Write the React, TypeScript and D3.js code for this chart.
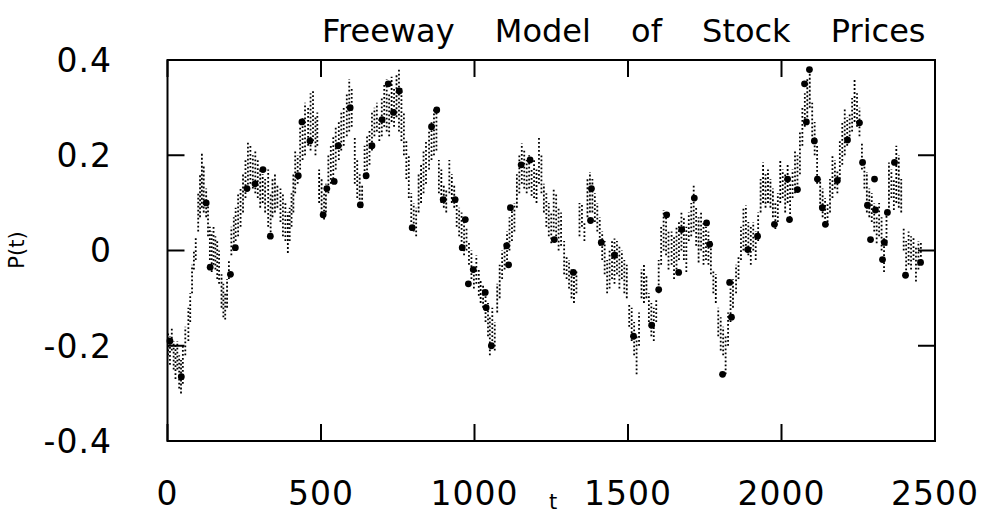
import React from "react";
import * as d3 from "d3";

const TITLE = "Freeway Model of Stock Prices";
const X_TICKS = [0, 500, 1000, 1500, 2000, 2500];
const Y_TICKS = [-0.4, -0.2, 0, 0.2, 0.4];
const Y_TICK_LABELS = ["-0.4", "-0.2", "0", "0.2", "0.4"];

// Streak columns: time t, low and high value of the cloud of points at that t
const T = [2,8,14,20,26,32,38,44,50,58,68,74,80,86,92,100,106,112,118,126,132,138,144,150,156,162,168,176,182,188,194,200,208,216,222,230,238,246,254,262,270,278,286,294,302,310,318,328,336,342,350,358,368,376,384,392,398,404,410,416,424,432,440,448,458,466,474,482,488,494,502,510,516,524,532,540,548,558,566,574,584,592,600,610,618,626,634,642,650,658,666,674,682,690,698,706,714,722,730,738,746,754,762,770,778,786,794,802,810,818,826,834,842,852,860,868,876,884,892,900,908,918,926,934,942,950,958,966,974,982,990,998,1006,1014,1020,1028,1036,1044,1050,1058,1066,1074,1082,1090,1098,1106,1114,1122,1130,1138,1146,1154,1162,1170,1178,1186,1194,1202,1210,1218,1226,1234,1242,1250,1258,1266,1274,1282,1292,1300,1308,1316,1324,1332,1342,1350,1358,1368,1376,1384,1392,1400,1408,1416,1424,1432,1440,1448,1456,1464,1472,1480,1488,1496,1504,1512,1520,1528,1536,1544,1552,1560,1568,1576,1584,1592,1600,1608,1616,1624,1632,1642,1650,1658,1666,1674,1682,1690,1698,1706,1714,1722,1730,1738,1746,1754,1762,1770,1778,1786,1794,1802,1810,1818,1826,1834,1842,1852,1860,1868,1876,1884,1892,1900,1908,1916,1924,1932,1940,1948,1956,1964,1972,1980,1988,1996,2004,2012,2020,2028,2036,2044,2052,2060,2068,2076,2084,2092,2100,2108,2116,2126,2134,2142,2150,2158,2166,2174,2182,2190,2198,2206,2214,2222,2230,2238,2246,2254,2262,2270,2278,2286,2294,2302,2310,2318,2326,2334,2342,2350,2358,2366,2374,2382,2390,2398,2406,2414,2422,2430,2438,2446,2454];
const LO = [-0.22,-0.24,-0.21,-0.25,-0.27,-0.25,-0.29,-0.3,-0.28,-0.22,-0.19,-0.15,-0.09,-0.04,-0.02,0.04,0.07,0.09,0.08,0.07,0.03,-0.02,-0.045,-0.03,-0.04,-0.06,-0.07,-0.12,-0.14,-0.145,-0.12,-0.06,-0.01,0.0,0.02,0.03,0.05,0.08,0.11,0.13,0.14,0.13,0.12,0.11,0.09,0.1,0.08,0.05,0.03,0.07,0.08,0.09,0.06,0.03,0.02,-0.005,0.02,0.05,0.08,0.12,0.14,0.17,0.19,0.2,0.22,0.21,0.23,0.2,0.22,0.1,0.07,0.065,0.08,0.12,0.14,0.15,0.17,0.19,0.21,0.22,0.24,0.25,0.26,0.14,0.11,0.09,0.09,0.15,0.16,0.18,0.21,0.24,0.25,0.23,0.24,0.26,0.25,0.24,0.27,0.26,0.28,0.25,0.23,0.2,0.15,0.11,0.06,0.04,0.03,0.08,0.1,0.12,0.14,0.17,0.19,0.2,0.21,0.12,0.1,0.09,0.08,0.12,0.1,0.09,0.05,0.03,0.01,-0.01,0.0,-0.03,-0.06,-0.08,-0.07,-0.095,-0.11,-0.12,-0.15,-0.18,-0.22,-0.19,-0.21,-0.13,-0.1,-0.06,-0.04,-0.02,0.0,0.02,0.04,0.09,0.12,0.14,0.13,0.12,0.13,0.115,0.11,0.1,0.14,0.12,0.08,0.05,0.03,0.015,0.04,0.03,0.0,0.01,-0.05,-0.06,-0.08,-0.1,-0.11,-0.09,0.03,0.05,0.02,0.07,0.08,0.08,0.06,0.04,0.01,-0.02,-0.05,-0.09,-0.08,-0.06,-0.07,-0.05,-0.08,-0.06,-0.09,-0.1,-0.16,-0.19,-0.22,-0.26,-0.2,-0.1,-0.11,-0.1,-0.15,-0.18,-0.19,-0.15,-0.09,-0.03,0.0,-0.01,-0.04,-0.03,-0.06,-0.04,-0.02,0.0,-0.02,-0.045,0.02,0.03,0.04,0.01,-0.025,0.0,-0.03,-0.02,-0.03,-0.05,-0.09,-0.11,-0.18,-0.21,-0.22,-0.26,-0.2,-0.15,-0.12,-0.09,-0.06,-0.02,0.0,0.01,-0.01,-0.03,0.0,-0.02,0.02,0.08,0.1,0.09,0.1,0.09,0.07,0.045,0.06,0.1,0.11,0.08,0.1,0.06,0.11,0.12,0.13,0.16,0.22,0.26,0.28,0.3,0.24,0.2,0.14,0.09,0.07,0.05,0.06,0.08,0.11,0.13,0.12,0.15,0.18,0.2,0.22,0.24,0.25,0.27,0.26,0.24,0.17,0.13,0.08,0.07,0.06,0.04,0.015,0.03,0.0,-0.045,0.01,0.09,0.11,0.085,0.1,0.09,0.08,0.0,-0.05,-0.03,-0.04,-0.02,-0.065,-0.04,-0.03];
const HI = [-0.17,-0.18,-0.16,-0.19,-0.2,-0.19,-0.22,-0.23,-0.2,-0.16,-0.12,-0.09,-0.03,0.0,0.03,0.12,0.16,0.205,0.18,0.13,0.1,0.05,0.04,0.05,0.03,0.02,0.0,-0.05,-0.07,-0.09,-0.06,-0.02,0.05,0.07,0.09,0.12,0.13,0.16,0.19,0.23,0.22,0.2,0.21,0.19,0.17,0.16,0.15,0.17,0.12,0.15,0.16,0.14,0.13,0.12,0.1,0.08,0.09,0.12,0.16,0.21,0.2,0.26,0.28,0.31,0.3,0.33,0.335,0.28,0.29,0.17,0.15,0.12,0.14,0.2,0.22,0.24,0.26,0.27,0.29,0.3,0.33,0.36,0.34,0.24,0.19,0.16,0.14,0.22,0.24,0.255,0.29,0.3,0.31,0.28,0.32,0.35,0.36,0.33,0.365,0.34,0.37,0.38,0.34,0.29,0.23,0.2,0.12,0.1,0.09,0.16,0.18,0.21,0.23,0.25,0.27,0.3,0.29,0.19,0.17,0.14,0.13,0.19,0.16,0.14,0.11,0.09,0.08,0.06,0.05,0.02,0.0,-0.03,-0.01,-0.04,-0.06,-0.07,-0.09,-0.11,-0.14,-0.12,-0.15,-0.07,-0.03,0.0,0.015,0.04,0.07,0.09,0.1,0.16,0.2,0.225,0.21,0.19,0.2,0.17,0.19,0.17,0.24,0.2,0.14,0.12,0.1,0.08,0.13,0.12,0.09,0.08,0.02,-0.01,-0.02,-0.04,-0.05,-0.04,0.1,0.1,0.06,0.15,0.165,0.15,0.12,0.1,0.07,0.04,0.02,-0.02,0.0,0.02,0.025,0.02,0.01,0.0,-0.02,-0.03,-0.11,-0.12,-0.15,-0.18,-0.13,-0.04,-0.03,-0.05,-0.09,-0.11,-0.12,-0.1,-0.02,0.05,0.085,0.07,0.04,0.04,0.03,0.05,0.06,0.08,0.07,0.05,0.08,0.1,0.14,0.09,0.07,0.08,0.06,0.05,0.04,0.02,-0.04,-0.05,-0.12,-0.14,-0.16,-0.18,-0.13,-0.08,-0.06,-0.03,-0.01,0.05,0.09,0.095,0.06,0.05,0.06,0.04,0.08,0.15,0.185,0.16,0.17,0.15,0.13,0.1,0.12,0.19,0.17,0.16,0.18,0.14,0.17,0.21,0.2,0.25,0.3,0.33,0.36,0.38,0.31,0.27,0.22,0.15,0.13,0.11,0.1,0.15,0.2,0.19,0.17,0.23,0.27,0.3,0.28,0.29,0.32,0.36,0.33,0.3,0.225,0.18,0.165,0.13,0.12,0.1,0.07,0.1,0.07,0.03,0.08,0.185,0.17,0.15,0.22,0.2,0.15,0.05,0.02,0.04,0.03,0.03,0.01,0.02,0.02];

// Larger markers
const BIG_T = [8,45,126,139,205,221,259,285,311,335,426,438,464,507,519,543,556,595,628,647,666,699,719,736,755,797,860,877,898,937,960,970,980,996,1035,1038,1055,1105,1111,1117,1152,1181,1260,1322,1378,1381,1413,1456,1518,1577,1600,1626,1665,1675,1716,1756,1766,1808,1831,1837,1890,1922,1977,2020,2026,2052,2075,2081,2091,2107,2117,2133,2143,2182,2215,2254,2264,2280,2290,2303,2306,2329,2335,2345,2368,2404,2453];
const BIG_V = [-0.19,-0.265,0.1,-0.035,-0.05,0.006,0.13,0.14,0.17,0.03,0.157,0.27,0.23,0.075,0.13,0.145,0.22,0.3,0.096,0.157,0.22,0.275,0.35,0.29,0.335,0.048,0.26,0.295,0.107,0.107,0.006,0.065,-0.07,-0.04,-0.088,-0.12,-0.2,0.01,-0.03,0.09,0.18,0.19,0.023,-0.046,0.063,0.13,0.017,-0.01,-0.18,-0.157,-0.082,0.075,-0.046,0.044,0.11,0.058,0.013,-0.26,-0.067,-0.14,0.002,0.03,0.055,0.15,0.065,0.128,0.35,0.27,0.38,0.23,0.15,0.09,0.055,0.147,0.232,0.268,0.185,0.095,0.023,0.15,0.085,-0.019,0.017,0.08,0.185,-0.052,-0.025];

const W = 981;
const H = 515;
const FONT = "'DejaVu Sans', 'Liberation Sans', sans-serif";

export default function App() {
  const x = d3.scaleLinear().domain([0, 2500]).range([167.5, 935]);
  const y = d3.scaleLinear().domain([-0.4, 0.4]).range([441, 60]);
  const [x0, x1] = x.range();
  const [yb, yt] = y.range();
  const tickLen = 17;

  return (
    <svg width={W} height={H} style={{ position: "absolute", left: 0, top: 0, background: "#fff" }}>
      <rect x={0} y={0} width={W} height={H} fill="#fff" />
      {/* streaks */}
      <g stroke="#000" strokeWidth={1.8} strokeDasharray="1.8 2.2">
        {T.map((t, i) => (
          <line key={i} x1={x(t)} x2={x(t)} y1={y(LO[i])} y2={y(HI[i])} />
        ))}
      </g>
      <g fill="#000">
        {BIG_T.map((t, i) => (
          <circle key={i} cx={x(t)} cy={y(BIG_V[i])} r={3.4} />
        ))}
      </g>
      {/* frame */}
      <rect x={x0} y={yt} width={x1 - x0} height={yb - yt} fill="none" stroke="#000" strokeWidth={2} />
      <g stroke="#000" strokeWidth={2}>
        {X_TICKS.map((v) => (
          <g key={v}>
            <line x1={x(v)} x2={x(v)} y1={yb} y2={yb - tickLen} />
            <line x1={x(v)} x2={x(v)} y1={yt} y2={yt + tickLen} />
          </g>
        ))}
        {Y_TICKS.map((v) => (
          <g key={v}>
            <line x1={x0} x2={x0 + tickLen} y1={y(v)} y2={y(v)} />
            <line x1={x1} x2={x1 - tickLen} y1={y(v)} y2={y(v)} />
          </g>
        ))}
      </g>
      <g fontFamily={FONT} fontSize={33} fill="#000" style={{ letterSpacing: "1px" }}>
        {X_TICKS.map((v) => (
          <text key={v} x={x(v)} y={505} textAnchor="middle">{String(v)}</text>
        ))}
        {Y_TICKS.map((v, i) => (
          <text key={v} x={112} y={y(v)} dy="0.36em" textAnchor="end">{Y_TICK_LABELS[i]}</text>
        ))}
      </g>
      <text x={553} y={509} fontFamily={FONT} fontSize={21} textAnchor="middle">t</text>
      <text transform={`translate(24,250) rotate(-90)`} fontFamily={FONT} fontSize={21} textAnchor="middle">P(t)</text>
      <text x={322} y={42} fontFamily={FONT} fontSize={32} style={{ wordSpacing: "30px" }}>{TITLE}</text>
    </svg>
  );
}
